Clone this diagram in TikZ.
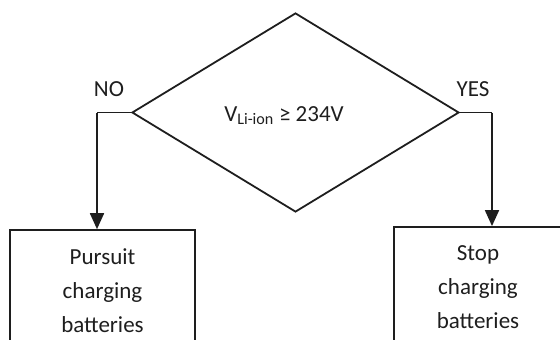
\documentclass[tikz,border=0pt]{standalone}
\usepackage{fontspec}
\setmainfont{Carlito}
\usetikzlibrary{shapes.geometric,arrows.meta}
\definecolor{ink}{HTML}{1E1E1E}
\begin{document}
\begin{tikzpicture}[x=1pt,y=-1pt,
  every node/.style={text=ink},
  line/.style={draw=ink,line width=1.8pt},
  flow/.style={line,-{Triangle[length=16pt,width=14pt]},shorten >=0pt},
  decision/.style={diamond,draw=ink,line width=1.8pt,inner sep=0pt,
    minimum width=327pt,minimum height=199pt,shape aspect=1.643},
  procbox/.style={rectangle,draw=ink,line width=1.8pt,inner sep=0pt,align=center,
    font=\fontsize{23}{34}\selectfont},
  tag/.style={font=\fontsize{23}{28}\selectfont,inner sep=0pt}]
\useasboundingbox (0,0) rectangle (560,340);
\clip (0,0) rectangle (560,340);
\node[decision] (dia) at (295.5,112.5) {};
\node[tag,anchor=base] (cond) at (284,121) {V\textsubscript{Li-ion} ≥ 234V};
\node[procbox,minimum width=185pt,minimum height=121pt] (pursue) at (102.5,290.6)
  {Pursuit\\charging\\batteries};
\node[procbox,minimum width=168pt,minimum height=120pt] (stop) at (478,287)
  {Stop\\charging\\batteries};
\node[tag] (no) at (109,89) {NO};
\node[tag] (yes) at (473,89) {YES};
\coordinate (nocorner) at (97,112.5);
\coordinate (yescorner) at (492,112.5);
\draw[line] (dia.west) -- (nocorner);
\draw[flow] (nocorner) -- (nocorner |- pursue.north);
\draw[line] (dia.east) -- (yescorner);
\draw[flow] (yescorner) -- (yescorner |- stop.north);
\end{tikzpicture}
\end{document}
